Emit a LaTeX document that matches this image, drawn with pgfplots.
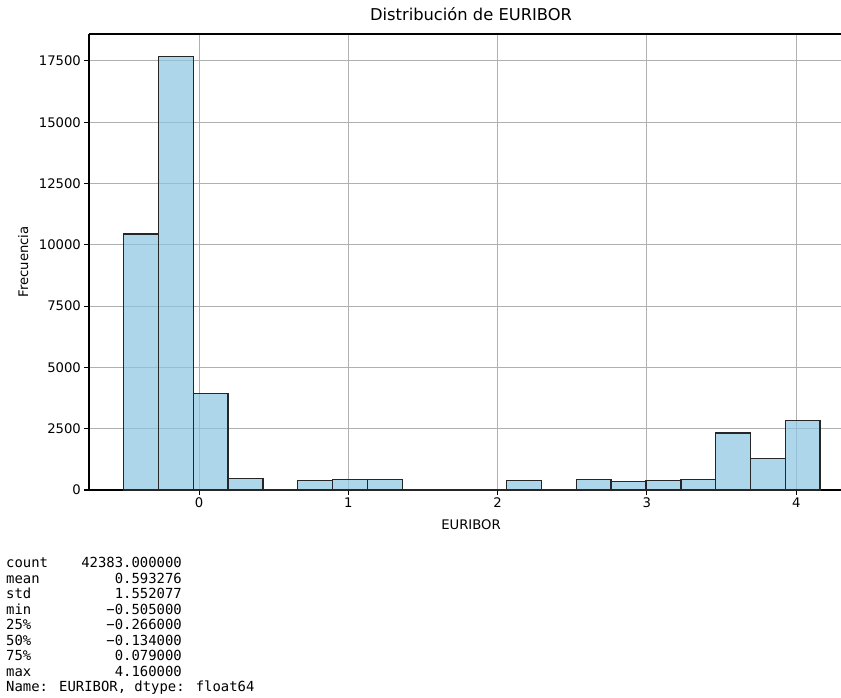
\documentclass[border=0pt]{standalone}
\usepackage{fontspec}
\setmainfont{DejaVu Sans}
\newfontfamily\monofont{DejaVu Sans Mono}
\usepackage{pgfplots}
\pgfplotsset{compat=1.18}
\definecolor{barfill}{RGB}{139,196,225}
\definecolor{baredge}{RGB}{38,38,38}
\definecolor{gridc}{RGB}{176,176,176}

\begin{document}
\begin{tikzpicture}
\begin{axis}[
  at={(89pt,-490pt)}, anchor=south west,
  scale only axis, width=752pt, height=456pt,
  xmin=-0.737, xmax=4.300, ymin=0, ymax=18600,
  axis x line=box, axis y line=left,
  xtick pos=left, ytick pos=left,
  axis line style={-, black, line width=1.05pt},
  xtick={0,1,2,3,4}, ytick={0,2500,5000,7500,10000,12500,15000,17500},
  tick align=outside, major tick length=4.6pt,
  tick style={black, line width=1.05pt},
  grid=major, major grid style={gridc, line width=1.05pt},
  ticklabel style={font=\fontsize{13.2}{15}\selectfont},
  /pgf/number format/assume math mode=true,
  /pgf/number format/1000 sep={},
  scaled y ticks=false,
  title={Distribución de EURIBOR},
  title style={at={(axis description cs:0.508,1.016)}, anchor=base, inner sep=0pt, font=\fontsize{16.3}{18}\selectfont},
  xlabel={EURIBOR},
  xlabel style={at={(axis description cs:0.508,-0.0877)}, anchor=base, inner sep=0pt, font=\fontsize{13.2}{15}\selectfont},
  ylabel={Frecuencia},
  ylabel style={at={(axis description cs:-0.0811,0.5)}, anchor=base, inner sep=0pt, font=\fontsize{13.2}{15}\selectfont},
]
\addplot[ybar interval, fill=barfill, fill opacity=0.7, draw=baredge, line width=1.4pt] coordinates {
(-0.505,10450) (-0.27175,17690) (-0.0385,3946) (0.19475,476) (0.428,0)
(0.66125,395) (0.8945,435) (1.12775,435) (1.361,0) (1.59425,0)
(1.8275,0) (2.06075,395) (2.294,0) (2.52725,435) (2.7605,354)
(2.99375,395) (3.227,435) (3.46025,2327) (3.6935,1279) (3.92675,2844)
(4.16,0)
};
\end{axis}
\begin{scope}[every node/.style={inner sep=0pt, font=\monofont\fontsize{13.9}{15.5}\selectfont}]
\node[anchor=base west] at (6pt,-567.7pt) {count};
\node[anchor=base east] at (182pt,-567.7pt) {42383.000000};
\node[anchor=base west] at (6pt,-583.2pt) {mean};
\node[anchor=base east] at (182pt,-583.2pt) {0.593276};
\node[anchor=base west] at (6pt,-598.7pt) {std};
\node[anchor=base east] at (182pt,-598.7pt) {1.552077};
\node[anchor=base west] at (6pt,-614.2pt) {min};
\node[anchor=base east] at (182pt,-614.2pt) {−0.505000};
\node[anchor=base west] at (6pt,-629.7pt) {25\%};
\node[anchor=base east] at (182pt,-629.7pt) {−0.266000};
\node[anchor=base west] at (6pt,-645.2pt) {50\%};
\node[anchor=base east] at (182pt,-645.2pt) {−0.134000};
\node[anchor=base west] at (6pt,-660.7pt) {75\%};
\node[anchor=base east] at (182pt,-660.7pt) {0.079000};
\node[anchor=base west] at (6pt,-676.2pt) {max};
\node[anchor=base east] at (182pt,-676.2pt) {4.160000};
\node[anchor=base west] at (6pt,-691.7pt) {Name: EURIBOR, dtype: float64};
\end{scope}
\pgfresetboundingbox
\useasboundingbox (0pt,0pt) rectangle (841pt,-698pt);
\end{tikzpicture}
\end{document}
